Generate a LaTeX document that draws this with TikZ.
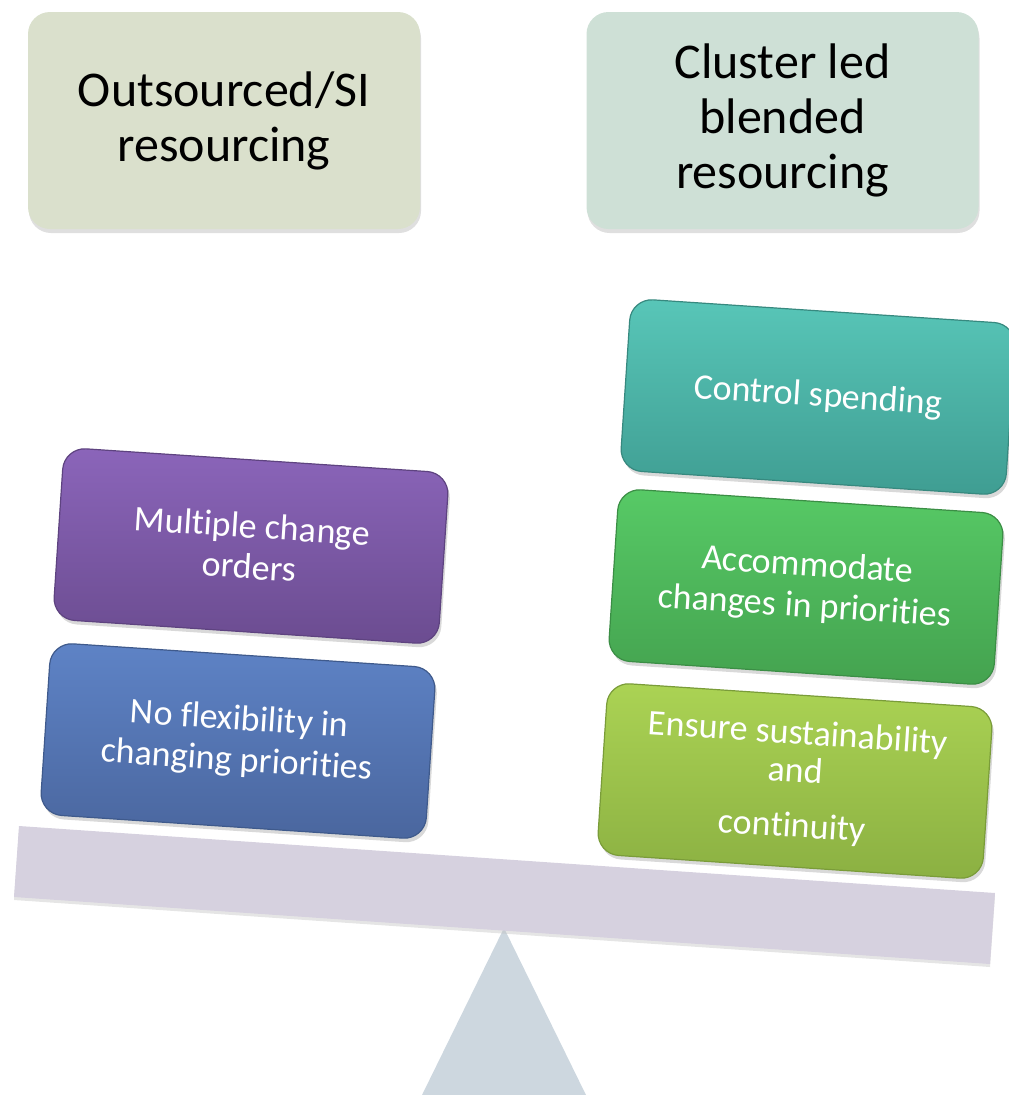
\documentclass[tikz,border=0pt]{standalone}
\usepackage{fontspec}
\setmainfont{Carlito}[RawFeature={-liga}]
\usetikzlibrary{shadows}
\definecolor{headL}{HTML}{DAE0CC}
\definecolor{headR}{HTML}{CEE0D6}
\definecolor{beamC}{HTML}{D6D1DF}
\definecolor{triC}{HTML}{CDD7DF}
\definecolor{purT}{HTML}{8B65BA}\definecolor{purB}{HTML}{6B4C90}\definecolor{purD}{HTML}{5E4380}
\definecolor{bluT}{HTML}{5E83C6}\definecolor{bluB}{HTML}{4A669E}\definecolor{bluD}{HTML}{3F5A8C}
\definecolor{teaT}{HTML}{58C6B8}\definecolor{teaB}{HTML}{3F9D92}\definecolor{teaD}{HTML}{37897F}
\definecolor{griT}{HTML}{57CA66}\definecolor{griB}{HTML}{44A24F}\definecolor{griD}{HTML}{3B8E45}
\definecolor{limT}{HTML}{ABD354}\definecolor{limB}{HTML}{8BB042}\definecolor{limD}{HTML}{7A9C39}
\begin{document}
\begin{tikzpicture}[x=1pt,y=-1pt]
\useasboundingbox (0,0) rectangle (1009,1095);
\tikzset{
  headbox/.style={rounded corners=22pt, minimum width=392pt, minimum height=217pt,
    align=center, text=black, font=\fontsize{50}{55}\selectfont,
    drop shadow={shadow xshift=1pt, shadow yshift=-4pt, opacity=0.25}},
  tiltbox/.style n args={3}{rounded corners=22pt, minimum width=386pt, minimum height=172pt,
    rotate=-3.8, align=center, text=white, font=\fontsize{36}{41}\selectfont,
    line width=1.2pt, top color=#1, bottom color=#2, draw=#3,
    drop shadow={shadow xshift=2pt, shadow yshift=-4pt, opacity=0.3}},
}
% fulcrum
\coordinate (apex) at (504,928);
\coordinate (baseL) at (422,1095);
\coordinate (baseR) at (586,1095);
\fill[triC] (baseL) -- (apex) -- (baseR) -- cycle;
% beam
\coordinate (bTL) at (19,826);
\coordinate (bTR) at (995,893);
\coordinate (bBR) at (990,964);
\coordinate (bBL) at (14,897);
\fill[black!25, opacity=0.4] ([yshift=-3pt]bTL) -- ([yshift=-3pt]bTR) -- ([yshift=-3pt]bBR) -- ([yshift=-3pt]bBL) -- cycle;
\fill[beamC] (bTL) -- (bTR) -- (bBR) -- (bBL) -- cycle;
% header boxes
\node[headbox, fill=headL] (hl) at (224,120.5) {Outsourced/SI\\resourcing};
\node[headbox, fill=headR] (hr) at (782.5,120.5) {Cluster led\\blended\\resourcing};
% left stack
\node[tiltbox={purT}{purB}{purD}] (mult) at (251,546) {Multiple change\\orders};
\node[tiltbox={bluT}{bluB}{bluD}] (noflex) at (238,741) {No flexibility in\\changing priorities};
% right stack
\node[tiltbox={teaT}{teaB}{teaD}] (ctrl) at (818,397) {Control spending};
\node[tiltbox={griT}{griB}{griD}] (acc) at (806,587) {Accommodate\\changes in priorities};
\node[tiltbox={limT}{limB}{limD}, font=\fontsize{36}{38}\selectfont] (ens) at (795,781) {Ensure sustainability\\and\\[17pt]continuity};
\end{tikzpicture}
\end{document}
